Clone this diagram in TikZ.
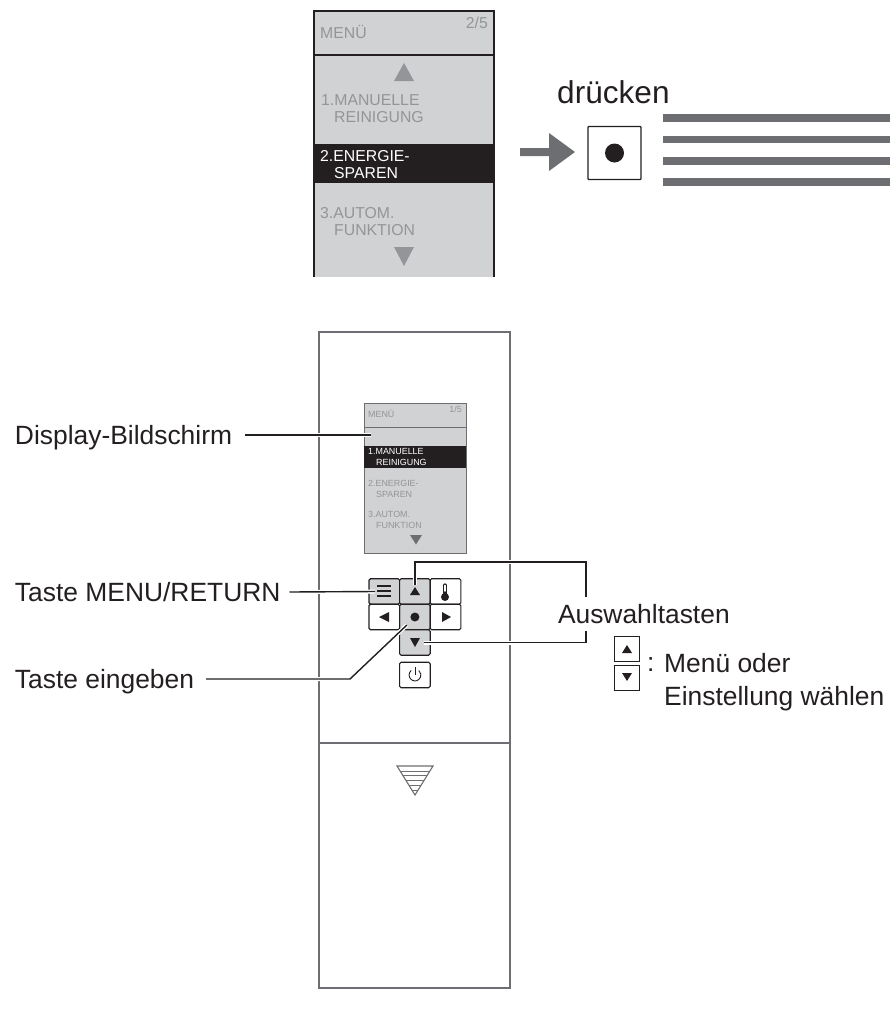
\documentclass[tikz,border=0pt]{standalone}
\usepackage{fontspec}
\setmainfont{Liberation Sans}
\definecolor{panelgray}{RGB}{208,210,211}
\definecolor{textgray}{RGB}{147,149,152}
\definecolor{icongray}{RGB}{109,110,113}
\definecolor{inkblack}{RGB}{35,31,32}
\usetikzlibrary{positioning}

\begin{document}
\begin{tikzpicture}[
    x=1pt, y=-1pt,
    lbl/.style={anchor=base west, inner sep=0pt, outer sep=0pt, text height=19pt, text depth=1pt, text=inkblack, font=\fontsize{26.4}{30}\selectfont},
    bigitem/.style={anchor=base west, inner sep=0pt, align=left, text=textgray, font=\fontsize{15.8}{17}\selectfont},
    smallitem/.style={anchor=base west, inner sep=0pt, align=left, text=textgray, font=\fontsize{8.9}{10.5}\selectfont},
    keybtn/.style={rectangle, rounded corners=1.5pt, minimum width=30.6pt, minimum height=25.5pt, inner sep=0pt, outer sep=0pt, draw=inkblack, line width=1.1pt},
    keygray/.style={keybtn, fill=panelgray},
    minikey/.style={rectangle, minimum width=25pt, minimum height=25pt, inner sep=0pt, outer sep=0pt, draw=inkblack, line width=0.7pt},
    leader/.style={draw=inkblack, line width=1.4pt, preaction={draw=white, line width=4pt}},
    icon/.style={fill=inkblack}
]

% Upper screen
\fill [panelgray] (314,11) rectangle (494,277);
\draw [inkblack, line width=1.3pt] (314,277) -- (314,11) -- (494,11) -- (494,277);
\draw [inkblack, line width=1.3pt] (314,55) -- (494,55);
\node (bigbar) [fill=inkblack, inner sep=0pt, minimum width=182pt, minimum height=39pt] at (404,163.5) {};
\fill [textgray] (394,81) -- (414,81) -- (404,63) -- cycle;
\fill [textgray] (394,247) -- (414,247) -- (404,266) -- cycle;
\node (bigmenu) [bigitem] at (320,38) {MENÜ};
\node (bigpage) [bigitem, anchor=base east] at (488,28) {2/5};
\node (bigone) [bigitem] at (321,122) {1.MANUELLE\\\hspace*{13pt}REINIGUNG};
\node (bigtwo) [bigitem, text=white] at (320,178) {2.ENERGIE-\\\hspace*{14pt}SPAREN};
\node (bigthree) [bigitem] at (320,235) {3.AUTOM.\\\hspace*{14pt}FUNKTION};

% Press hint
\node (press) [anchor=base west, inner sep=0pt, text=inkblack, font=\fontsize{31.6}{36}\selectfont] at (557,103) {drücken};
\node (pressbtn) [rectangle, minimum width=53pt, minimum height=53pt, inner sep=0pt, rounded corners=0.8pt, draw=inkblack, line width=1.2pt] at (614.5,153) {};
\fill [icon] (pressbtn.center) circle (9.5);
\fill [icongray] (520,148) -- (549,148) -- (549,133) -- (575,152) -- (549,171) -- (549,156) -- (520,156) -- cycle;
\foreach \yy in {118,139.5,161,182}
    \fill [icongray] (663,\yy-3.7) rectangle (890,\yy+3.7);

% Remote control
\draw [icongray, line width=1.4pt] (319,332) rectangle (510,988);
\draw [icongray, line width=1.4pt] (319,743) -- (510,743);

% Small screen
\fill [panelgray] (364,403) rectangle (466,553);
\draw [icongray, line width=0.9pt] (364,403) rectangle (466,553);
\draw [icongray, line width=0.9pt] (364,427) -- (466,427);
\node (smallbar) [fill=inkblack, inner sep=0pt, minimum width=102pt, minimum height=22pt] at (415,457) {};
\fill [icongray] (410,535) -- (422,535) -- (416,544.5) -- cycle;
\node (smallmenu) [smallitem] at (368,417) {MENÜ};
\node (smallpage) [smallitem, anchor=base east] at (462,412) {1/5};
\node (smallone) [smallitem, text=white] at (368,465) {1.MANUELLE\\\hspace*{8pt}REINIGUNG};
\node (smalltwo) [smallitem] at (368,497) {2.ENERGIE-\\\hspace*{8pt}SPAREN};
\node (smallthree) [smallitem] at (368,528) {3.AUTOM.\\\hspace*{8pt}FUNKTION};

% Keys
\node (btnmenu) [keygray] at (384.3,591.5) {};
\node (btnup) [keygray, right=0pt of btnmenu] {};
\node (btntemp) [keybtn, right=0pt of btnup] {};
\node (btnenter) [keygray, below=0pt of btnup] {};
\node (btnleft) [keybtn, left=0pt of btnenter] {};
\node (btnright) [keybtn, right=0pt of btnenter] {};
\node (btndown) [keygray, below=0pt of btnenter] {};
\node (btnpower) [keybtn, below=7pt of btndown] {};

% Key icons
\foreach \yy in {586,591,596}
    \draw [inkblack, line width=1.1pt] (377,\yy) -- (391,\yy);
\fill [icon] (410,595) -- (420,595) -- (415,587) -- cycle;
\fill [icon] (410,638) -- (420,638) -- (415,647) -- cycle;
\fill [icon] (389,612) -- (389,622) -- (379,617) -- cycle;
\fill [icon] (442,612) -- (442,622) -- (451,617) -- cycle;
\fill [icon] (btnenter.center) circle (4.5);
\draw [inkblack, line width=4.4pt, line cap=round] (445,585.5) -- (445,596);
\draw [white, line width=1.6pt, line cap=round] (445,585.5) -- (445,591);
\fill [icon] (445,597) circle (4);
\draw [inkblack, line width=0.9pt] (411.2,670.5) arc (-130:-410:5.9) ;
\draw [inkblack, line width=0.9pt] (415,667) -- (415,675);

% Fan symbol
\draw [icongray, line width=1.1pt] (397,766) -- (433,766) -- (415,795) -- cycle;
\foreach \yy in {771,775.5,780,785,790} {
    \pgfmathsetmacro{\halfw}{(795-\yy)*18/29}
    \draw [icongray, line width=1pt] (415-\halfw,\yy) -- (415+\halfw,\yy);
}

% Labels
\node (lblDisplay) [lbl] at (15,444) {Display-Bildschirm};
\node (lblMenu) [lbl] at (15,601) {Taste MENU/RETURN};
\node (lblEnter) [lbl] at (15,688) {Taste eingeben};
\node (lblSelect) [lbl] at (558,623) {Auswahltasten};
\node (keyup) [minikey] at (627,648.5) {};
\node (keydown) [minikey, below=4pt of keyup] {};
\fill [icon] (622,653) -- (632,653) -- (627,645) -- cycle;
\fill [icon] (622,673) -- (632,673) -- (627,681) -- cycle;
\node (lblColon) [lbl] at (647,671) {:};
\node (lblChoose) [anchor=base west, inner sep=0pt, align=left, text=inkblack, font=\fontsize{26.4}{33}\selectfont] at (664,705) {Menü oder\\Einstellung wählen};

% Leaders
\coordinate (dispEnd) at (371,435);
\coordinate (enterBend) at (350,679);
\coordinate (selTop) at (586,597);
\coordinate (selBot) at (586,631);
\coordinate (selCorner) at (586,562);
\draw [leader] ([xshift=13pt]lblDisplay.east) -- (dispEnd);
\draw [leader] ([xshift=9pt]lblMenu.east) -- ([xshift=6pt]btnmenu.west);
\draw [leader] ([xshift=12pt]lblEnter.east) -- (enterBend) -- ([xshift=-8pt,yshift=-8pt]btnenter.center);
\draw [leader] (selTop) -- (selCorner) -| ([yshift=-6pt]btnup.north);
\draw [leader] (selBot) |- ([xshift=9pt]btndown.center);

\useasboundingbox (0,0) rectangle (890,1018);
\end{tikzpicture}
\end{document}
